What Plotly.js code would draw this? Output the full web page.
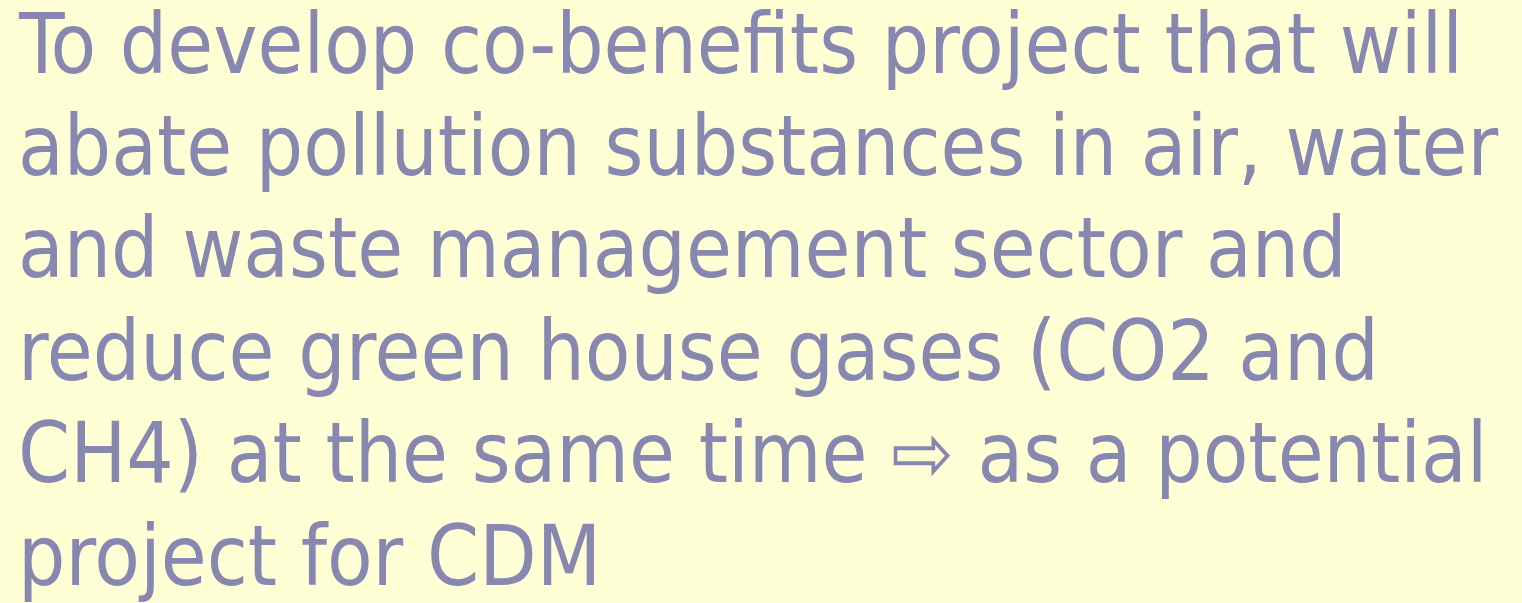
<!DOCTYPE html>
<html>
<head>
<meta charset="utf-8">
<script src="https://cdn.plot.ly/plotly-3.0.1.min.js"></script>
<style>html,body{margin:0;padding:0;background:#FFFFD6;}#chart{width:1522px;height:603px;}</style>
</head>
<body>
<div id="chart"></div>
<script>
const lines = [
  "To develop co-benefits project that will",
  "abate pollution substances in air, water",
  "and waste management sector and",
  "reduce green house gases (CO2 and",
  "CH4) at the same time \u21E8 as a potential",
  "project for CDM"
];
const W = 1522, H = 603;
const firstBaseline = 72, lineStep = 102.4, fontSize = 83, leftPx = 16, centerOffset = 28;

const annotations = lines.map((t, i) => ({
  text: t,
  xref: 'paper', yref: 'paper',
  x: leftPx / W,
  y: 1 - (firstBaseline + lineStep * i - centerOffset) / H,
  xanchor: 'left', yanchor: 'middle',
  showarrow: false,
  align: 'left',
  font: {family: 'DejaVu Sans Condensed', size: fontSize, color: '#8787B0'}
}));

Plotly.newPlot('chart', [], {
  width: W, height: H,
  margin: {l: 0, r: 0, t: 0, b: 0},
  paper_bgcolor: '#FFFFD6',
  plot_bgcolor: '#FFFFD6',
  xaxis: {visible: false, range: [0, 1]},
  yaxis: {visible: false, range: [0, 1]},
  showlegend: false,
  annotations: annotations
}, {displayModeBar: false, staticPlot: true});
</script>
</body>
</html>
